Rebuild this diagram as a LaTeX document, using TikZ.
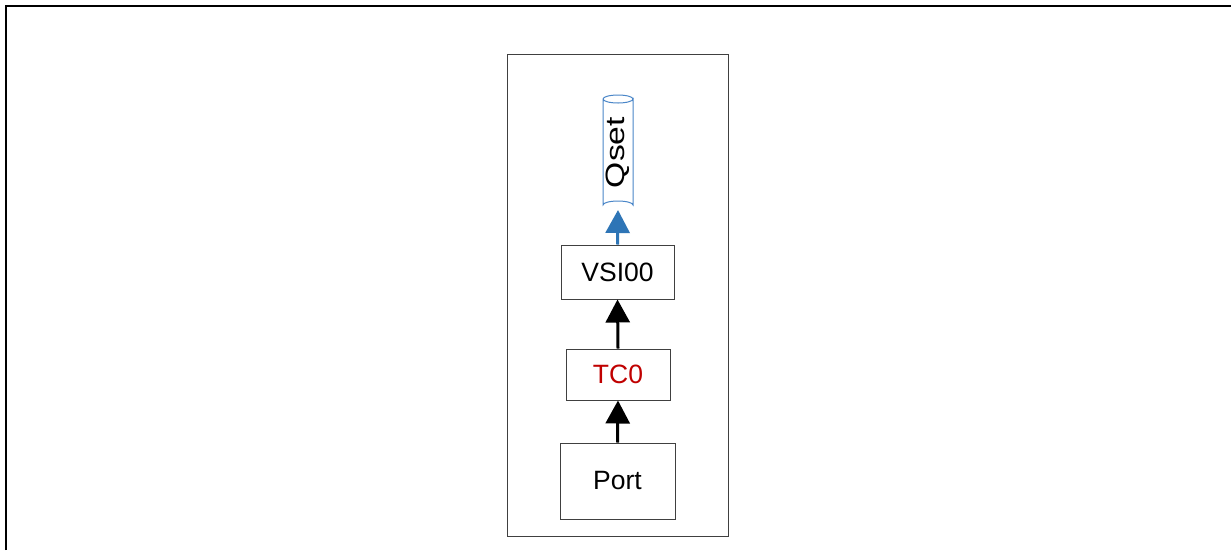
\documentclass[tikz,border=0pt]{standalone}
\usepackage{fontspec}
\setmainfont{Liberation Sans}
\usetikzlibrary{arrows.meta}
\definecolor{qblue}{HTML}{2E75B6}
\definecolor{cylblue}{HTML}{4A86C8}
\definecolor{tcred}{HTML}{C00000}
\definecolor{boxgray}{HTML}{404040}
\begin{document}
\begin{tikzpicture}[x=1pt,y=-1pt,
  box/.style={draw=boxgray,line width=1pt,inner sep=0pt,font=\fontsize{26.5}{30}\selectfont},
  flow/.style={line width=3pt,-{Triangle[width=24pt,length=23pt]}},
  line cap=butt]
\useasboundingbox (0,0) rectangle (1231,550);
\fill[white] (0,0) rectangle (1231,550);
% outer frame (top and left)
\coordinate (fa) at (6,550);
\coordinate (fb) at (6,6);
\coordinate (fc) at (1231,6);
\draw[line width=2.2pt] (fa) -- (fb) -- (fc);
% container
\node[draw=boxgray,line width=1pt,minimum width=221pt,minimum height=482pt,inner sep=0pt] (cont) at (617.5,295) {};
% boxes
\node[box,minimum width=113pt,minimum height=54pt] (vsi) at (617.5,272) {VSI00};
\node[box,minimum width=104pt,minimum height=51pt,text=tcred] (tc) at (618,374.5) {TC0};
\node[box,minimum width=115pt,minimum height=76pt] (port) at (617.5,481) {Port};
% cylinder
\draw[cylblue,line width=1pt,fill=white]
  (603,99) -- (603,205) arc[start angle=180,end angle=360,x radius=15,y radius=4] -- (633,99)
  arc[start angle=0,end angle=180,x radius=15,y radius=4];
\draw[cylblue,line width=1pt] (603,99) arc[start angle=180,end angle=360,x radius=15,y radius=4];
\node[rotate=90,inner sep=0pt,font=\fontsize{26.5}{30}\selectfont,xscale=1.27] (qset) at (618,152.5) {Qset};
\coordinate (cylb) at (618,210);
% arrows
\draw[flow,qblue] (vsi.north) -- (cylb);
\draw[flow] (tc.north) -- (vsi.south);
\draw[flow] (port.north) -- (tc.south);
\end{tikzpicture}
\end{document}
